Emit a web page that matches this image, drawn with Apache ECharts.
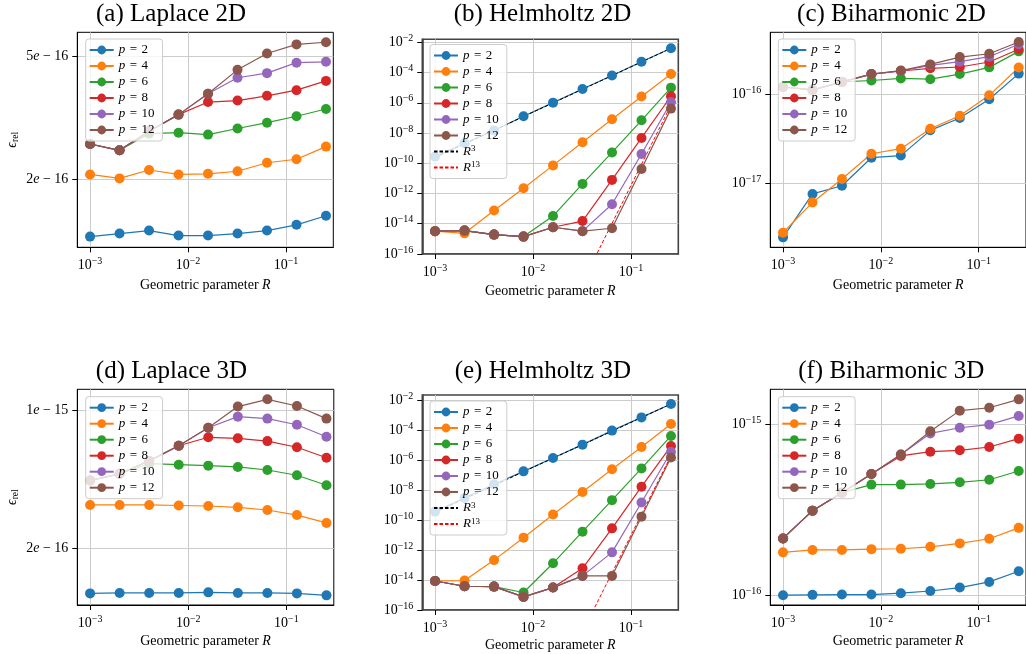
<!DOCTYPE html>
<html><head><meta charset="utf-8">
<script src="https://cdn.jsdelivr.net/npm/echarts@6/dist/echarts.min.js"></script>
<style>html,body{margin:0;padding:0;background:#fff}#c{width:1026px;height:654px}</style>
</head><body><div id="c"></div><script>
// Geometric parameter R (x values)
const R = [0.001, 0.002, 0.004, 0.008, 0.016, 0.032, 0.064, 0.128, 0.256];
const seriesNames = ['p = 2', 'p = 4', 'p = 6', 'p = 8', 'p = 10', 'p = 12'];

// (a) Laplace 2D
const lap2d_p2  = [1.30e-16, 1.33e-16, 1.36e-16, 1.31e-16, 1.31e-16, 1.33e-16, 1.36e-16, 1.42e-16, 1.52e-16];
const lap2d_p4  = [2.07e-16, 2.01e-16, 2.14e-16, 2.07e-16, 2.08e-16, 2.12e-16, 2.26e-16, 2.32e-16, 2.55e-16];
const lap2d_p6  = [2.60e-16, 2.48e-16, 2.81e-16, 2.83e-16, 2.79e-16, 2.92e-16, 3.05e-16, 3.20e-16, 3.38e-16];
const lap2d_p8  = [2.60e-16, 2.48e-16, 2.86e-16, 3.24e-16, 3.56e-16, 3.60e-16, 3.73e-16, 3.89e-16, 4.17e-16];
const lap2d_p10 = [2.60e-16, 2.48e-16, 2.86e-16, 3.24e-16, 3.79e-16, 4.27e-16, 4.42e-16, 4.78e-16, 4.81e-16];
const lap2d_p12 = [2.60e-16, 2.48e-16, 2.86e-16, 3.24e-16, 3.79e-16, 4.53e-16, 5.12e-16, 5.48e-16, 5.57e-16];

// (b) Helmholtz 2D
const helm2d_p2  = [2.75e-10, 2.09e-9, 1.45e-8, 1.29e-7, 1.02e-6, 8.1e-6, 6.3e-5, 5.2e-4, 4.0e-3];
const helm2d_p4  = [3.2e-15, 2.3e-15, 7.4e-14, 2.2e-12, 7.2e-11, 2.45e-9, 8.1e-8, 2.6e-6, 8.1e-5];
const helm2d_p6  = [3.2e-15, 3.5e-15, 1.9e-15, 1.4e-15, 3.2e-14, 4.3e-12, 5.2e-10, 6.9e-8, 1.0e-5];
const helm2d_p8  = [3.2e-15, 3.5e-15, 1.9e-15, 1.4e-15, 5.8e-15, 1.5e-14, 7.9e-12, 4.7e-9, 2.7e-6];
const helm2d_p10 = [3.2e-15, 3.5e-15, 1.9e-15, 1.4e-15, 5.8e-15, 3.2e-15, 1.95e-13, 4.1e-10, 1.07e-6];
const helm2d_p12 = [3.2e-15, 3.5e-15, 1.9e-15, 1.4e-15, 5.8e-15, 3.2e-15, 5.0e-15, 4.2e-11, 4.1e-7];
const helm2d_r3  = [2.4e-10, 1.9e-9, 1.5e-8, 1.23e-7, 9.8e-7, 7.8e-6, 6.2e-5, 5.0e-4, 4.0e-3];
const helm2d_r13 = [null, null, null, null, null, 1.3e-18, 1.05e-14, 8.5e-11, 7.1e-7];

// (c) Biharmonic 2D
const bih2d_p2  = [2.47e-18, 7.6e-18, 9.4e-18, 1.94e-17, 2.05e-17, 3.94e-17, 5.42e-17, 8.8e-17, 1.71e-16];
const bih2d_p4  = [2.79e-18, 6.1e-18, 1.12e-17, 2.15e-17, 2.45e-17, 4.11e-17, 5.75e-17, 9.75e-17, 2.0e-16];
const bih2d_p6  = [1.21e-16, 1.12e-16, 1.38e-16, 1.43e-16, 1.51e-16, 1.48e-16, 1.69e-16, 2.01e-16, 3.04e-16];
const bih2d_p8  = [1.21e-16, 1.12e-16, 1.38e-16, 1.69e-16, 1.83e-16, 1.96e-16, 2.03e-16, 2.31e-16, 3.21e-16];
const bih2d_p10 = [1.21e-16, 1.12e-16, 1.38e-16, 1.69e-16, 1.83e-16, 2.12e-16, 2.33e-16, 2.65e-16, 3.65e-16];
const bih2d_p12 = [1.21e-16, 1.12e-16, 1.38e-16, 1.69e-16, 1.85e-16, 2.17e-16, 2.62e-16, 2.86e-16, 3.87e-16];

// (d) Laplace 3D
const lap3d_p2  = [1.18e-16, 1.186e-16, 1.186e-16, 1.186e-16, 1.194e-16, 1.186e-16, 1.186e-16, 1.18e-16, 1.153e-16];
const lap3d_p4  = [3.32e-16, 3.32e-16, 3.32e-16, 3.30e-16, 3.28e-16, 3.23e-16, 3.13e-16, 2.95e-16, 2.69e-16];
const lap3d_p6  = [4.42e-16, 4.78e-16, 5.38e-16, 5.32e-16, 5.26e-16, 5.18e-16, 5.00e-16, 4.70e-16, 4.18e-16];
const lap3d_p8  = [4.42e-16, 4.78e-16, 5.56e-16, 6.64e-16, 7.33e-16, 7.24e-16, 7.01e-16, 6.52e-16, 5.77e-16];
const lap3d_p10 = [4.42e-16, 4.78e-16, 5.56e-16, 6.64e-16, 8.20e-16, 9.33e-16, 9.12e-16, 8.49e-16, 7.38e-16];
const lap3d_p12 = [4.42e-16, 4.78e-16, 5.56e-16, 6.64e-16, 8.20e-16, 1.05e-15, 1.143e-15, 1.057e-15, 9.12e-16];

// (e) Helmholtz 3D
const helm3d_p2  = [3.6e-10, 2.95e-9, 2.4e-8, 1.74e-7, 1.35e-6, 1.05e-5, 9.1e-5, 6.9e-4, 5.4e-3];
const helm3d_p4  = [8.5e-15, 9.1e-15, 2.1e-13, 6.6e-12, 2.3e-10, 7.4e-9, 2.4e-7, 7.4e-6, 2.5e-4];
const helm3d_p6  = [8.5e-15, 3.8e-15, 3.6e-15, 1.45e-15, 1.29e-13, 1.66e-11, 2.1e-9, 2.75e-7, 4.0e-5];
const helm3d_p8  = [8.5e-15, 3.8e-15, 3.6e-15, 7.4e-16, 3.1e-15, 6.0e-14, 2.75e-11, 1.66e-8, 8.5e-6];
const helm3d_p10 = [8.5e-15, 3.8e-15, 3.6e-15, 7.4e-16, 3.1e-15, 1.86e-14, 6.9e-13, 1.45e-9, 3.4e-6];
const helm3d_p12 = [8.5e-15, 3.8e-15, 3.6e-15, 7.4e-16, 3.1e-15, 1.86e-14, 1.86e-14, 1.66e-10, 1.45e-6];
const helm3d_r3  = [3.2e-10, 2.6e-9, 2.0e-8, 1.66e-7, 1.32e-6, 1.05e-5, 8.3e-5, 6.8e-4, 5.4e-3];
const helm3d_r13 = [null, null, null, null, null, 3.5e-18, 2.9e-14, 2.4e-10, 1.95e-6];

// (f) Biharmonic 3D
const bih3d_p2  = [1.005e-16, 1.01e-16, 1.014e-16, 1.014e-16, 1.033e-16, 1.064e-16, 1.114e-16, 1.202e-16, 1.387e-16];
const bih3d_p4  = [1.79e-16, 1.85e-16, 1.85e-16, 1.87e-16, 1.88e-16, 1.93e-16, 2.02e-16, 2.15e-16, 2.49e-16];
const bih3d_p6  = [2.16e-16, 3.14e-16, 4.0e-16, 4.46e-16, 4.46e-16, 4.5e-16, 4.6e-16, 4.76e-16, 5.36e-16];
const bih3d_p8  = [2.16e-16, 3.14e-16, 4.0e-16, 5.14e-16, 6.56e-16, 6.95e-16, 7.08e-16, 7.40e-16, 8.28e-16];
const bih3d_p10 = [2.16e-16, 3.14e-16, 4.0e-16, 5.14e-16, 6.68e-16, 8.89e-16, 9.59e-16, 1.0e-15, 1.125e-15];
const bih3d_p12 = [2.16e-16, 3.14e-16, 4.0e-16, 5.14e-16, 6.68e-16, 9.14e-16, 1.208e-15, 1.256e-15, 1.406e-15];

// Tick values
const xTicks = [0.001, 0.01, 0.1];
const yTicksA = [2e-16, 5e-16];
const yTicksB = [1e-16, 1e-14, 1e-12, 1e-10, 1e-8, 1e-6, 1e-4, 1e-2];
const yTicksC = [1e-17, 1e-16];
const yTicksD = [2e-16, 1e-15];
const yTicksF = [1e-16, 1e-15];

const FONT = 'Liberation Serif';
const COLORS = ['#1f77b4', '#ff7f0e', '#2ca02c', '#d62728', '#9467bd', '#8c564b'];

const panels = [
  {title: '(a) Laplace 2D', tx: 171, ty: 2, grid: {left: 77.3, top: 32.3, width: 256, height: 215},
   ymin: 1.2e-16, ymax: 6.0e-16, yticks: yTicksA, sci: true, ylabel: true, xgap: 31, frame: '#000', fw: 1,
   data: [lap2d_p2, lap2d_p4, lap2d_p6, lap2d_p8, lap2d_p10, lap2d_p12], legend: {left: 85.7, top: 39}},
  {title: '(b) Helmholtz 2D', tx: 542.5, ty: 2, grid: {left: 422.3, top: 39.3, width: 256, height: 214.7},
   ymin: 9.9e-17, ymax: 1.58e-2, yticks: yTicksB, sci: false, ylabel: false, xgap: 30, frame: '#444', fw: 1.6,
   data: [helm2d_p2, helm2d_p4, helm2d_p6, helm2d_p8, helm2d_p10, helm2d_p12], r3: helm2d_r3, r13: helm2d_r13,
   legend: {left: 430, top: 44.5}},
  {title: '(c) Biharmonic 2D', tx: 891.5, ty: 2, grid: {left: 770.3, top: 32.3, width: 256, height: 215},
   ymin: 1.91e-18, ymax: 4.98e-16, yticks: yTicksC, sci: false, ylabel: false, xgap: 31, frame: '#000', fw: 1,
   data: [bih2d_p2, bih2d_p4, bih2d_p6, bih2d_p8, bih2d_p10, bih2d_p12], legend: {left: 778.3, top: 39}},
  {title: '(d) Laplace 3D', tx: 171.5, ty: 358.7, grid: {left: 77.3, top: 389.3, width: 256.5, height: 215.7},
   ymin: 1.03e-16, ymax: 1.285e-15, yticks: yTicksD, sci: true, ylabel: true, xgap: 29, frame: '#000', fw: 1,
   data: [lap3d_p2, lap3d_p4, lap3d_p6, lap3d_p8, lap3d_p10, lap3d_p12], legend: {left: 85.7, top: 396.7}},
  {title: '(e) Helmholtz 3D', tx: 542.8, ty: 358.7, grid: {left: 422.3, top: 395, width: 256, height: 215},
   ymin: 9.9e-17, ymax: 2.15e-2, yticks: yTicksB, sci: false, ylabel: false, xgap: 28, frame: '#444', fw: 1.6,
   data: [helm3d_p2, helm3d_p4, helm3d_p6, helm3d_p8, helm3d_p10, helm3d_p12], r3: helm3d_r3, r13: helm3d_r13,
   legend: {left: 430, top: 401}},
  {title: '(f) Biharmonic 3D', tx: 891.2, ty: 358.7, grid: {left: 770.3, top: 389.3, width: 256, height: 215.7},
   ymin: 8.81e-17, ymax: 1.61e-15, yticks: yTicksF, sci: false, ylabel: false, xgap: 29, frame: '#000', fw: 1,
   data: [bih3d_p2, bih3d_p4, bih3d_p6, bih3d_p8, bih3d_p10, bih3d_p12], legend: {left: 778.3, top: 396.7}}
];

const tickRich = {
  b: {fontFamily: FONT, fontSize: 14, lineHeight: 18, color: '#000'},
  s: {fontFamily: FONT, fontSize: 10, lineHeight: 12, verticalAlign: 'top', color: '#000'},
  it: {fontFamily: FONT, fontSize: 14, lineHeight: 18, fontStyle: 'italic', color: '#000'}
};
function powLabel(v) {
  const e = Math.round(Math.log10(v));
  return '{b|10}{s|' + (e < 0 ? '\u2212' : '') + Math.abs(e) + '}';
}
function sciLabel(v) {
  const e = Math.floor(Math.log10(v) + 1e-9);
  const m = Math.round(v / Math.pow(10, e));
  return '{b|' + m + '}{it|e}{b| \u2212 ' + Math.abs(e) + '}';
}
function legendFmt(name) {
  if (name === 'R^3') return '{i|R}{sup|3}';
  if (name === 'R^13') return '{i|R}{sup|13}';
  return '{i|p}{eq|=}' + name.split('= ')[1];
}

const option = {
  animation: false,
  backgroundColor: '#fff',
  textStyle: {fontFamily: FONT},
  title: [], grid: [], xAxis: [], yAxis: [], legend: [], series: []
};

panels.forEach((p, i) => {
  option.title.push({
    text: p.title, left: p.tx, top: p.ty, textAlign: 'center', padding: 0,
    textStyle: {fontFamily: FONT, fontSize: 25, fontWeight: 'normal', color: '#000'}
  });
  option.grid.push(Object.assign({show: true, borderColor: p.frame, borderWidth: p.fw, backgroundColor: 'transparent'}, p.grid));
  option.xAxis.push({
    type: 'log', logBase: 10, gridIndex: i, min: 7.41e-4, max: 0.304,
    name: 'Geometric parameter {it|R}', nameLocation: 'middle', nameGap: p.xgap,
    nameTextStyle: {fontFamily: FONT, fontSize: 14, color: '#000',
      rich: {it: {fontFamily: FONT, fontSize: 14, fontStyle: 'italic', color: '#000'}}},
    axisLine: {show: true, onZero: false, lineStyle: {color: p.frame, width: p.fw}},
    axisTick: {show: true, inside: false, length: 5, customValues: xTicks, lineStyle: {color: '#000', width: 1}},
    axisLabel: {show: true, margin: 9, customValues: xTicks, formatter: powLabel, rich: tickRich},
    splitLine: {show: true, lineStyle: {color: '#cccccc', width: 1}},
    minorTick: {show: false}, minorSplitLine: {show: false}
  });
  option.yAxis.push({
    type: 'log', logBase: 10, gridIndex: i, min: p.ymin, max: p.ymax,
    name: p.ylabel ? '{e|\u03f5}{s|rel}' : '', nameLocation: 'middle', nameGap: 57, nameRotate: 90,
    nameTextStyle: {fontFamily: FONT, color: '#000', rich: {
      e: {fontFamily: FONT, fontSize: 14, lineHeight: 16, fontStyle: 'italic', color: '#000'},
      s: {fontFamily: FONT, fontSize: 9.5, lineHeight: 10, verticalAlign: 'bottom', color: '#000'}
    }},
    axisLine: {show: true, onZero: false, lineStyle: {color: p.frame, width: p.fw}},
    axisTick: {show: true, inside: false, length: 5, customValues: p.yticks, lineStyle: {color: '#000', width: 1}},
    axisLabel: {show: true, margin: 9, customValues: p.yticks, formatter: p.sci ? sciLabel : powLabel, rich: tickRich},
    splitLine: {show: true, lineStyle: {color: '#cccccc', width: 1}},
    minorTick: {show: false}, minorSplitLine: {show: false}
  });
  const legendData = seriesNames.map(n => ({name: n}));
  p.data.forEach((arr, k) => {
    option.series.push({
      type: 'line', name: seriesNames[k], xAxisIndex: i, yAxisIndex: i,
      data: R.map((r, j) => [r, arr[j]]),
      symbol: 'circle', symbolSize: 10, showSymbol: true,
      lineStyle: {width: 1.2, color: COLORS[k]}, itemStyle: {color: COLORS[k]},
      emphasis: {disabled: true}, silent: true, clip: true
    });
  });
  if (p.r3) {
    legendData.push({name: 'R^3', itemStyle: {opacity: 0}}, {name: 'R^13', itemStyle: {opacity: 0}});
    option.series.push({
      type: 'line', name: 'R^3', xAxisIndex: i, yAxisIndex: i,
      data: R.map((r, j) => [r, p.r3[j]]), symbol: 'none', showSymbol: false,
      lineStyle: {width: 1, color: '#000', type: [3.5, 2]}, itemStyle: {color: '#000'},
      emphasis: {disabled: true}, silent: true, clip: true
    });
    option.series.push({
      type: 'line', name: 'R^13', xAxisIndex: i, yAxisIndex: i,
      data: R.map((r, j) => [r, p.r13[j]]), symbol: 'none', showSymbol: false,
      lineStyle: {width: 1, color: '#ff0000', type: [3.5, 2]}, itemStyle: {color: '#ff0000'},
      emphasis: {disabled: true}, silent: true, clip: true
    });
  }
  option.legend.push({
    show: true, orient: 'vertical', left: p.legend.left, top: p.legend.top,
    data: legendData, selectedMode: false,
    itemWidth: 24, itemHeight: 11, itemGap: 2, padding: [4, 8, 4, 3],
    backgroundColor: 'rgba(255,255,255,0.8)', borderColor: '#cccccc', borderWidth: 1, borderRadius: 3,
    formatter: legendFmt,
    textStyle: {fontFamily: FONT, fontSize: 13, color: '#000', lineHeight: 14, rich: {
      i: {fontFamily: FONT, fontSize: 13, fontStyle: 'italic', color: '#000', lineHeight: 14},
      eq: {fontFamily: FONT, fontSize: 13, color: '#000', padding: [0, 4.5, 0, 4.5], lineHeight: 14},
      sup: {fontFamily: FONT, fontSize: 9, color: '#000', verticalAlign: 'top', lineHeight: 10}
    }}
  });
});

const chart = echarts.init(document.getElementById('c'), null, {renderer: 'canvas', width: 1026, height: 654});
chart.setOption(option);
</script></body></html>
